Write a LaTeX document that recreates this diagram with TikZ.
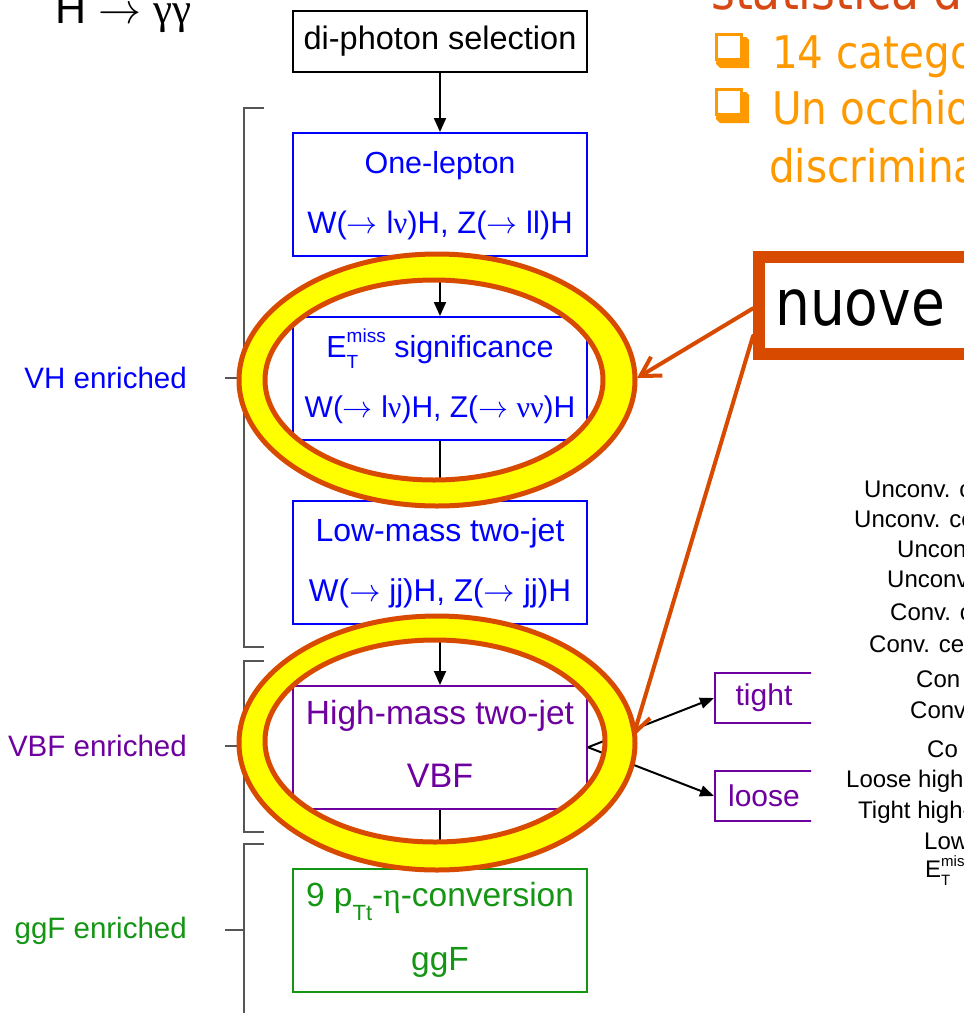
\RequirePackage{fix-cm}
\documentclass[tikz,border=0pt]{standalone}
\usepackage{fontspec}
\setmainfont{Liberation Sans}
\newfontfamily\symfont{Liberation Serif}
\newfontfamily\slidefont{DejaVu Sans}
\usetikzlibrary{arrows.meta,calc}

\definecolor{vhblue}{RGB}{0,0,255}
\definecolor{vbfpurple}{RGB}{110,0,160}
\definecolor{ggfgreen}{RGB}{20,150,20}
\definecolor{calloutred}{RGB}{216,74,0}
\definecolor{ringyellow}{RGB}{255,255,0}
\definecolor{bulletorange}{RGB}{255,153,0}
\definecolor{titlered}{RGB}{214,72,20}
\definecolor{bracketgray}{RGB}{85,85,85}

% base, superscript, subscript, script size, raise, lower
\newcommand\supsub[6]{#1\makebox[0pt][l]{\raisebox{-#6}{\fontsize{#4}{#4}\selectfont #3}}\raisebox{#5}{\fontsize{#4}{#4}\selectfont #2}}
\newcommand\sy[1]{{\symfont #1}}
\newcommand\ar{$\rightarrow$}
\newcommand\slide[3]{\scalebox{#1}[1]{\fontsize{#2}{#2}\selectfont\slidefont #3}}
\newcommand\fs[1]{\fontsize{#1}{#1}\selectfont}

\begin{document}
\begin{tikzpicture}[x=1pt,y=-1pt,
  flowbox/.style={draw, line width=2pt, minimum width=294pt, minimum height=122.5pt,
    anchor=north, inner sep=0pt},
  boxtext/.style={anchor=base, inner sep=0pt},
  flowarrow/.style={line width=2pt, -{Triangle[length=14pt,width=12pt]}},
  sidebox/.style={draw=vbfpurple, line width=2pt, minimum width=98pt, minimum height=50pt,
    anchor=north west, inner sep=0pt, text=vbfpurple, font=\fs{30}},
  sidearrow/.style={line width=2pt, -{Triangle[length=14pt,width=11pt]}},
  bracket/.style={draw=bracketgray, line width=2pt},
  grouplabel/.style={font=\fs{29.5}, anchor=base east, inner sep=0pt},
  ringedge/.style={draw=calloutred, line width=5pt},
  callout/.style={draw=calloutred, line width=4pt, line cap=round,
    -{Straight Barb[length=19pt,width=22pt,line width=4pt]}},
  listtext/.style={font=\fs{24}, anchor=base west, inner sep=0pt},
  slidetext/.style={anchor=base west, inner sep=0pt}
]
\useasboundingbox (0,0) rectangle (964,1013);
\clip (0,0) rectangle (964,1013);
\fill[white] (0,0) rectangle (964,1013);

% decay channel heading
\node[anchor=base west, inner sep=0pt, font=\fs{43}] (channel) at (55,23)
  {H \ar\ \sy{γγ}};

% category flow
\node[flowbox, draw=black, minimum height=61pt, font=\fs{32.5}] (dip) at (440,10)
  {di-photon selection};

\node[flowbox, draw=vhblue] (onelep) at (440,132) {};
\node[boxtext, text=vhblue, font=\fs{30.5}] (onelepA) at (440,173) {One-lepton};
\node[boxtext, text=vhblue, font=\fs{31}] (onelepB) at (440,233) {W(\ar\ l\sy{ν})H, Z(\ar\ ll)H};

\node[flowbox, draw=vhblue] (etmiss) at (440,316) {};
\node[boxtext, text=vhblue, font=\fs{30.5}] (etmissA) at (440,357)
  {\supsub{E}{miss}{T}{19}{15pt}{11pt} significance};
\node[boxtext, text=vhblue, font=\fs{30}] (etmissB) at (440,417) {W(\ar\ l\sy{ν})H, Z(\ar\ \sy{νν})H};

\node[flowbox, draw=vhblue] (lowmass) at (440,500) {};
\node[boxtext, text=vhblue, font=\fs{32}] (lowmassA) at (440,541) {Low-mass two-jet};
\node[boxtext, text=vhblue, font=\fs{31.5}] (lowmassB) at (440,601) {W(\ar\ jj)H, Z(\ar\ jj)H};

\node[flowbox, draw=vbfpurple] (highmass) at (440,685) {};
\node[boxtext, text=vbfpurple, font=\fs{33.5}] (highmassA) at (440,724) {High-mass two-jet};
\node[boxtext, text=vbfpurple, font=\fs{34}] (highmassB) at (440,787) {VBF};

\node[flowbox, draw=ggfgreen] (ggf) at (440,868) {};
\node[boxtext, text=ggfgreen, font=\fs{33.5}] (ggfA) at (440,906)
  {9 p\raisebox{-14pt}{\fs{22}Tt}-\sy{η}-conversion};
\node[boxtext, text=ggfgreen, font=\fs{33.5}] (ggfB) at (440,970) {ggF};

\draw[flowarrow] (dip.south) -- (onelep.north);
\draw[flowarrow] (onelep.south) -- (etmiss.north);
\draw[flowarrow] (etmiss.south) -- (lowmass.north);
\draw[flowarrow] (lowmass.south) -- (highmass.north);
\draw[flowarrow] (highmass.south) -- (ggf.north);

% tight / loose split of the VBF category
\begin{scope}
  \clip (0,0) rectangle (811,1013);
  \node[sidebox] (tight) at (714,672) {tight};
  \node[sidebox] (loose) at (714,770) {loose};
\end{scope}
\draw[sidearrow] (highmass.east) -- (tight.west);
\draw[sidearrow] (highmass.east) -- (loose.west);

% production-mode brackets
\draw[bracket] (264,108) -- (244,108) -- (244,647) -- (264,647);
\draw[bracket] (225,378) -- (244,378);
\draw[bracket] (264,661) -- (244,661) -- (244,832) -- (264,832);
\draw[bracket] (225,746) -- (244,746);
\draw[bracket] (264,844) -- (244,844) -- (244,1020);
\draw[bracket] (225,930) -- (244,930);

\node[grouplabel, text=vhblue] (vhlabel) at (187,388) {VH enriched};
\node[grouplabel, text=vbfpurple] (vbflabel) at (187,756) {VBF enriched};
\node[grouplabel, text=ggfgreen] (ggflabel) at (187,938) {ggF enriched};

% highlight rings
\path[fill=ringyellow, even odd rule]
  (437,380) ellipse [x radius=198, y radius=126]
  (434,380) ellipse [x radius=169, y radius=100];
\draw[ringedge] (437,380) ellipse [x radius=198, y radius=126];
\draw[ringedge] (434,380) ellipse [x radius=169, y radius=100];

\path[fill=ringyellow, even odd rule]
  (437,743) ellipse [x radius=198, y radius=127]
  (435,741) ellipse [x radius=170, y radius=101];
\draw[ringedge] (437,743) ellipse [x radius=198, y radius=127];
\draw[ringedge] (435,741) ellipse [x radius=170, y radius=101];

% callout box
\node[draw=calloutred, line width=12pt, minimum width=260pt, minimum height=97pt,
  anchor=north west, inner sep=0pt] (frame) at (753,251) {};
\node[slidetext, text=black] (nuove) at (775,325) {\slide{0.86}{64}{nuove}};
\coordinate (ringA) at (637,378);
\coordinate (ringB) at (633,737);
\draw[callout] ($(frame.north west)!0.526!(frame.south west)$) -- (ringA);
\draw[callout] ($(frame.north west)!0.78!(frame.south west)$) -- (ringB);

% slide text
\node[slidetext, text=titlered] (title) at (711,9) {\slide{0.88}{52}{statistica d}};
\foreach \y in {33,88}{
  \fill[bulletorange] (719,\y+4) -- (746,\y+4) -- (749,\y+7) -- (749,\y+35) -- (720,\y+35) -- (716,\y+31) -- cycle;
  \draw[bulletorange, fill=white, line width=3pt] (716.5,\y+1.5) rectangle (741.5,\y+26.5);
}
\node[slidetext, text=bulletorange] (itemA) at (772,68) {\slide{0.9}{45}{14 catego}};
\node[slidetext, text=bulletorange] (itemB) at (772,124) {\slide{0.9}{45}{Un occhio}};
\node[slidetext, text=bulletorange] (itemC) at (769,182) {\slide{0.9}{45}{discrimina}};

% category list
\node[listtext] (l1) at (864,497) {Unconv. c};
\node[listtext] (l2) at (854,527) {Unconv. ce};
\node[listtext] (l3) at (897,557) {Uncon};
\node[listtext] (l4) at (887,587) {Unconv};
\node[listtext] (l5) at (890,620) {Conv. c};
\node[listtext] (l6) at (869,652) {Conv. ce};
\node[listtext] (l7) at (916,687) {Con};
\node[listtext] (l8) at (910,718) {Conv};
\node[listtext] (l9) at (927,757) {Co};
\node[listtext] (l10) at (846,787) {Loose high};
\node[listtext] (l11) at (858,818) {Tight high-};
\node[listtext] (l12) at (924,849) {Low};
\node[listtext] (l13) at (925,877) {\supsub{E}{mis}{T}{15}{11pt}{8pt}};
\end{tikzpicture}
\end{document}
